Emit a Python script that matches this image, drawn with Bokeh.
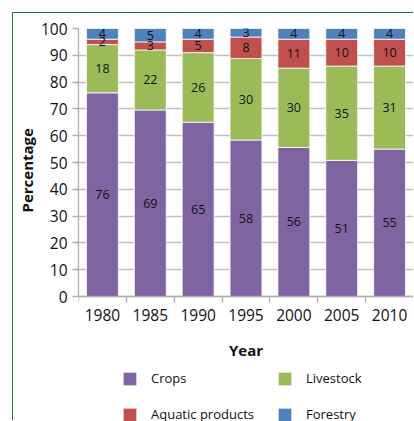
from bokeh.plotting import figure
from bokeh.models import (ColumnDataSource, Range1d, FixedTicker, LinearAxis,
                          Legend, LegendItem, CustomJSTickFormatter, Title)
from bokeh.core.properties import value
from bokeh.embed import file_html
from bokeh.resources import INLINE

years = [1980, 1985, 1990, 1995, 2000, 2005, 2010]
crops = [76, 69.6, 65, 58.4, 55.6, 50.8, 55]
livestock = [18, 22.4, 26, 30.4, 29.6, 35.2, 31]
aquatic = [2, 3, 5, 8, 10.8, 10, 10]
forestry = [4, 5, 4, 3.2, 4, 4, 4]
crops_lbl = ["76", "69", "65", "58", "56", "51", "55"]
livestock_lbl = ["18", "22", "26", "30", "30", "35", "31"]
aquatic_lbl = ["2", "3", "5", "8", "11", "10", "10"]
forestry_lbl = ["4", "5", "4", "3", "4", "4", "4"]
series = ["Crops", "Livestock", "Aquatic products", "Forestry"]
colors = ["#8064A2", "#9BBB59", "#C0504D", "#4F81BD"]
y_ticks = [0, 10, 20, 30, 40, 50, 60, 70, 80, 90, 100]

FONT = "Open Sans"
TXT = "#111111"
AX = "#b0b0b0"
step = years[1] - years[0]

src = ColumnDataSource(dict(year=years, c0=crops, c1=livestock, c2=aquatic, c3=forestry))

# frame runs to the bottom of the canvas so the legend can sit inside it
p = figure(width=401, height=408, output_backend="svg", toolbar_location=None,
           x_range=Range1d(years[0] - step / 2, years[-1] + step / 2),
           y_range=Range1d(-46.64, 100),
           min_border_left=64, min_border_right=1, min_border_top=15,
           min_border_bottom=0)
p.margin = (12, 0, 0, 12)
p.styles = {"border-left": "1px solid #1f7a36", "border-top": "1px solid #1f7a36"}
p.outline_line_color = None
p.background_fill_color = "white"
p.border_fill_color = "white"

rs = p.vbar_stack(["c0", "c1", "c2", "c3"], x="year", width=step * 0.667,
                  color=colors, line_color="white", line_width=0.8, source=src)

# segment labels
lx, ly, lt = [], [], []
vals = [crops, livestock, aquatic, forestry]
lbls = [crops_lbl, livestock_lbl, aquatic_lbl, forestry_lbl]
for i, yr in enumerate(years):
    base = 0
    for s in range(4):
        v = vals[s][i]
        lx.append(yr)
        ly.append(base + v / 2)
        lt.append(lbls[s][i])
        base += v
p.text(x=lx, y=ly, text=lt, text_font=value(FONT), text_font_size="12.5px",
       text_align="center", text_baseline="middle", text_color=TXT)

# grid
p.xgrid.visible = False
p.ygrid.ticker = FixedTicker(ticks=y_ticks)
p.ygrid.grid_line_color = "#c0c0c0"
p.ygrid.grid_line_width = 1.3

# y axis
ya = p.yaxis[0]
ya.ticker = FixedTicker(ticks=y_ticks)
ya.bounds = (0, 100)
ya.major_label_text_font = FONT
ya.major_label_text_font_size = "15.5px"
ya.major_label_text_color = TXT
ya.major_label_standoff = 5
ya.major_tick_in = 0
ya.major_tick_out = 6
ya.minor_tick_line_color = None
ya.axis_line_color = AX
ya.major_tick_line_color = AX
ya.axis_line_width = 1.3
ya.major_tick_line_width = 1.3

# y axis title, placed along the 0-100 span rather than the whole frame
ytitle = Title(text="Percentage", align="left", offset=209, standoff=2,
               text_font=FONT, text_font_style="bold", text_font_size="15px",
               text_color=TXT)
p.add_layout(ytitle, "left")

# x axis 1: boundary ticks only, drawn at y = 0
xa = p.xaxis[0]
xa.fixed_location = 0
xa.ticker = FixedTicker(ticks=[y - step / 2 for y in years] + [years[-1] + step / 2])
xa.formatter = CustomJSTickFormatter(code="return ''")
xa.major_label_standoff = 0
xa.major_tick_in = 0
xa.major_tick_out = 6
xa.minor_tick_line_color = None
xa.axis_line_color = AX
xa.major_tick_line_color = AX
xa.axis_line_width = 1.3
xa.major_tick_line_width = 1.3

# x axis 2: year labels, also at y = 0
xb = LinearAxis(ticker=FixedTicker(ticks=years), fixed_location=0)
xb.axis_line_color = None
xb.major_tick_line_color = None
xb.minor_tick_line_color = None
xb.major_tick_in = 0
xb.major_tick_out = 0
xb.major_label_text_font = FONT
xb.major_label_text_font_size = "15.5px"
xb.major_label_text_color = TXT
xb.major_label_standoff = 12
xb.axis_label = "Year"
xb.axis_label_text_font = FONT
xb.axis_label_text_font_style = "bold"
xb.axis_label_text_font_size = "15px"
xb.axis_label_text_color = TXT
xb.axis_label_standoff = 16
p.add_layout(xb, "below")

# legend
items = [LegendItem(label=series[k], renderers=[rs[k]]) for k in range(4)]
leg = Legend(items=items, ncols=2, orientation="horizontal", location=(43, -2),
             glyph_width=17, glyph_height=17, label_height=17, label_width=107,
             label_standoff=13, spacing=18, padding=0, margin=0,
             border_line_color=None, background_fill_alpha=0,
             label_text_font=FONT, label_text_font_size="13px",
             label_text_color=TXT)
p.add_layout(leg, "center")

open("out.html", "w").write(file_html(p, INLINE))
